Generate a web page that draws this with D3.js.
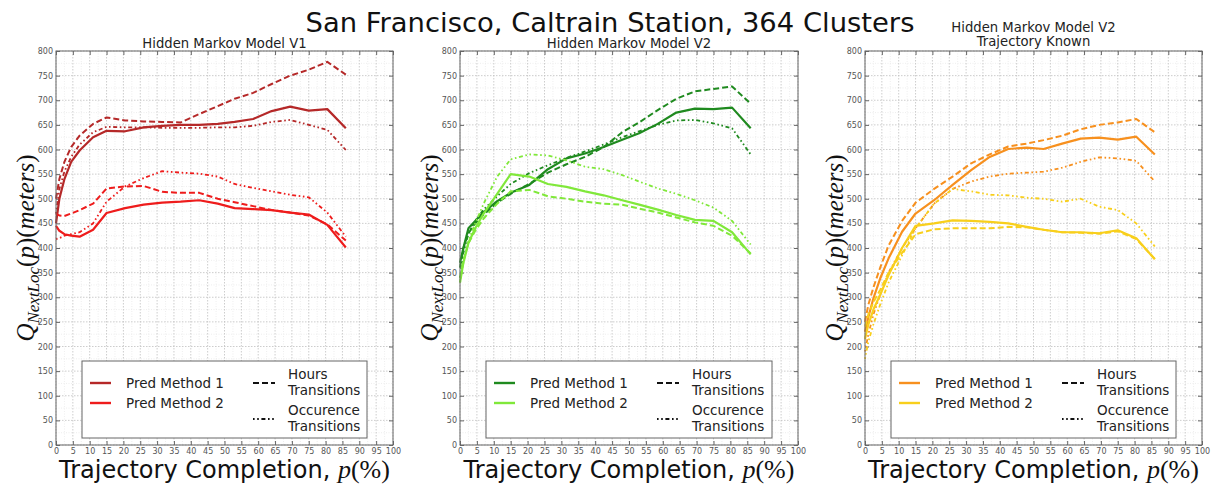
<!DOCTYPE html>
<html><head><meta charset="utf-8">
<script src="https://cdn.jsdelivr.net/npm/d3@7"></script>
<style>body{margin:0;background:#fff}svg{display:block}</style>
</head><body><svg id="c" width="1212" height="487"></svg>
<script>
// ---------- data ----------
const mainTitle = "San Francisco, Caltrain Station, 364 Clusters";
const panelTitles = [["Hidden Markov Model V1"], ["Hidden Markov Model V2"], ["Hidden Markov Model V2", "Trajectory Known"]];
const methodNames = ["Pred Method 1", "Pred Method 2"];
const transitionNames = [["Hours", "Transitions"], ["Occurence", "Transitions"]];
const xTickLabels = [0,5,10,15,20,25,30,35,40,45,50,55,60,65,70,75,80,85,90,95,100];
const yTickLabels = [0,50,100,150,200,250,300,350,400,450,500,550,600,650,700,750,800];
const completion = [0,1,2.5,4.5,7,11,15,20.5,26,31.5,37,42.5,48,53,58.5,64,69.5,75,80.5,86];

// Hidden Markov Model V1
const v1M1Solid     = [450,500,540,575,598,625,638,637,645,648,650,650,652,656,662,678,687,679,682,643];
const v1M1Hours     = [500,540,575,605,628,652,665,659,657,656,655,672,688,703,715,733,750,762,778,752];
const v1M1Occurence = [470,520,555,585,610,635,646,645,645,644,644,644,645,645,648,656,660,650,640,599];
const v1M2Solid     = [445,435,428,425,423,437,471,481,488,492,494,497,490,481,479,477,472,468,447,401];
const v1M2Hours     = [470,466,465,470,477,490,521,525,526,514,512,512,500,493,485,477,472,466,448,415];
const v1M2Occurence = [418,420,425,428,432,450,494,525,542,556,553,551,545,530,522,515,508,503,472,423];
// Hidden Markov Model V2
const v2M1Solid     = [370,400,440,455,473,495,512,528,560,582,592,605,620,633,652,675,683,682,685,643];
const v2M1Hours     = [360,400,430,450,468,492,510,530,553,570,585,605,635,655,680,703,718,723,728,693];
const v2M1Occurence = [340,390,430,455,478,505,530,552,568,583,596,610,625,637,650,659,660,653,643,590];
const v2M2Solid     = [330,370,410,440,470,510,550,545,530,524,515,507,497,488,478,467,457,455,432,387];
const v2M2Hours     = [340,375,410,435,460,490,515,518,505,500,494,490,488,480,472,462,452,445,425,389];
const v2M2Occurence = [330,370,415,450,490,545,580,590,588,578,565,560,548,535,521,510,497,482,455,407];
// Hidden Markov Model V2, Trajectory Known
const v3M1Solid     = [230,260,298,338,379,433,470,497,528,558,585,601,604,601,612,622,624,620,626,590];
const v3M1Hours     = [250,285,320,360,405,455,492,520,545,572,590,606,612,619,628,641,650,655,662,635];
const v3M1Occurence = [190,225,265,305,350,400,440,490,520,535,545,551,553,555,563,575,584,582,577,535];
const v3M2Solid     = [215,245,275,305,345,400,445,450,456,455,453,450,443,437,432,432,430,436,420,377];
const v3M2Hours     = [240,265,290,315,350,390,428,438,440,440,440,443,442,437,432,431,429,434,418,378];
const v3M2Occurence = [175,210,245,285,330,385,440,490,520,515,508,507,502,500,494,500,484,477,450,403];

const panelSeries = [
  [[v1M1Solid, v1M1Hours, v1M1Occurence], [v1M2Solid, v1M2Hours, v1M2Occurence]],
  [[v2M1Solid, v2M1Hours, v2M1Occurence], [v2M2Solid, v2M2Hours, v2M2Occurence]],
  [[v3M1Solid, v3M1Hours, v3M1Occurence], [v3M2Solid, v3M2Hours, v3M2Occurence]]
];
const panelColors = [["#b52828", "#ee1c1c"], ["#1f8a1f", "#80e83a"], ["#f7901e", "#f8cf1c"]];

// ---------- layout ----------
const plotBoxes = [{l:56, r:393}, {l:460, r:798}, {l:865, r:1202}];
const plotTop = 51, plotBottom = 445;
const dashes = [null, "6,3", "1.6,2.6,1.6,2.6,4,2.6"];
const widths = [2.2, 2.0, 1.8];

const svg = d3.select("#c");
svg.append("rect").attr("width", 1212).attr("height", 487).attr("fill", "#fff");

svg.append("text").attr("x", 610).attr("y", 32).attr("text-anchor", "middle")
  .attr("font-family", "DejaVu Sans").attr("font-size", 27.4).attr("fill", "#111").text(mainTitle);

plotBoxes.forEach((b, pi) => {
  const x = d3.scaleLinear().domain([0, 100]).range([b.l, b.r]);
  const y = d3.scaleLinear().domain([0, 800]).range([plotBottom, plotTop]);
  const g = svg.append("g");

  // minor grid
  const minorX = xTickLabels.slice(0, -1).map(v => v + 2.5);
  const minorY = yTickLabels.slice(0, -1).map(v => v + 25);
  g.selectAll(".mgx").data(minorX).join("line")
    .attr("x1", d => x(d)).attr("x2", d => x(d)).attr("y1", plotTop).attr("y2", plotBottom)
    .attr("stroke", "#e6e6e6").attr("stroke-width", 0.7).attr("stroke-dasharray", "1,1.5");
  g.selectAll(".mgy").data(minorY).join("line")
    .attr("y1", d => y(d)).attr("y2", d => y(d)).attr("x1", b.l).attr("x2", b.r)
    .attr("stroke", "#e6e6e6").attr("stroke-width", 0.7).attr("stroke-dasharray", "1,1.5");
  // major grid
  g.selectAll(".gx").data(xTickLabels).join("line")
    .attr("x1", d => x(d)).attr("x2", d => x(d)).attr("y1", plotTop).attr("y2", plotBottom)
    .attr("stroke", "#c0c0c0").attr("stroke-width", 0.8).attr("stroke-dasharray", "1.5,1.5");
  g.selectAll(".gy").data(yTickLabels).join("line")
    .attr("y1", d => y(d)).attr("y2", d => y(d)).attr("x1", b.l).attr("x2", b.r)
    .attr("stroke", "#c0c0c0").attr("stroke-width", 0.8).attr("stroke-dasharray", "1.5,1.5");

  // axes
  const styleAxis = sel => {
    sel.select(".domain").remove();
    sel.selectAll("line").attr("stroke", "#666");
    sel.selectAll("text").attr("font-family", "DejaVu Sans").attr("font-size", 8).attr("fill", "#555");
  };
  g.append("g").attr("transform", `translate(0,${plotBottom})`)
    .call(d3.axisBottom(x).tickValues(xTickLabels).tickSizeInner(-4).tickSizeOuter(0).tickPadding(3)).call(styleAxis);
  g.append("g").attr("transform", `translate(${b.l},0)`)
    .call(d3.axisLeft(y).tickValues(yTickLabels).tickSizeInner(-4).tickSizeOuter(0).tickPadding(3)).call(styleAxis);
  g.append("g").attr("transform", `translate(0,${plotTop})`)
    .call(d3.axisTop(x).tickValues(xTickLabels).tickSizeInner(-4).tickSizeOuter(0).tickFormat("")).call(styleAxis);
  g.append("g").attr("transform", `translate(${b.r},0)`)
    .call(d3.axisRight(y).tickValues(yTickLabels).tickSizeInner(-4).tickSizeOuter(0).tickFormat("")).call(styleAxis);

  // lines
  const line = d3.line().x(d => x(d[0])).y(d => y(d[1]));
  panelSeries[pi].forEach((method, mi) => {
    method.forEach((vals, si) => {
      g.append("path").datum(completion.map((c, i) => [c, vals[i]]))
        .attr("d", line).attr("fill", "none")
        .attr("stroke", panelColors[pi][mi]).attr("stroke-width", widths[si])
        .attr("stroke-linejoin", "round")
        .attr("stroke-dasharray", dashes[si]);
    });
  });

  // frame
  g.append("rect").attr("x", b.l).attr("y", plotTop).attr("width", b.r - b.l).attr("height", plotBottom - plotTop)
    .attr("fill", "none").attr("stroke", "#666").attr("stroke-width", 1);

  // subtitle
  const cx = (b.l + b.r) / 2;
  const titles = panelTitles[pi];
  titles.forEach((t, ti) => {
    g.append("text").attr("x", cx).attr("y", titles.length === 1 ? 48 : 32 + ti * 14)
      .attr("text-anchor", "middle").attr("font-family", "DejaVu Sans").attr("font-size", 13.2)
      .attr("fill", "#222").text(t);
  });

  // x label
  const xl = g.append("text").attr("x", cx).attr("y", 478).attr("text-anchor", "middle")
    .attr("font-family", "DejaVu Sans").attr("font-size", 24).attr("fill", "#111");
  xl.append("tspan").text("Trajectory Completion, ");
  xl.append("tspan").attr("font-family", "Liberation Serif").attr("font-style", "italic").attr("font-size", 26).text("p");
  xl.append("tspan").attr("font-family", "Liberation Serif").attr("font-size", 26).text("(%)");

  // y label
  const yl = g.append("text").attr("transform", `translate(${b.l - 22},${(plotTop + plotBottom) / 2}) rotate(-90)`)
    .attr("text-anchor", "middle").attr("font-family", "Liberation Serif").attr("font-size", 25).attr("fill", "#111");
  yl.append("tspan").attr("font-style", "italic").text("Q");
  yl.append("tspan").attr("font-style", "italic").attr("font-size", 17).attr("dy", 5).text("NextLoc");
  yl.append("tspan").attr("dy", -5).text("(");
  yl.append("tspan").attr("font-style", "italic").text("p");
  yl.append("tspan").text(")(");
  yl.append("tspan").attr("font-style", "italic").text("meters");
  yl.append("tspan").text(")");

  // legend
  const lx = b.l + 26, lw = b.r - b.l - 52, ly = 361, lh = 77;
  const lg = g.append("g");
  lg.append("rect").attr("x", lx).attr("y", ly).attr("width", lw).attr("height", lh)
    .attr("fill", "#fff").attr("stroke", "#666").attr("stroke-width", 1);
  methodNames.forEach((name, mi) => {
    const yy = ly + 22 + mi * 20;
    lg.append("line").attr("x1", lx + 8).attr("x2", lx + 29).attr("y1", yy).attr("y2", yy)
      .attr("stroke", panelColors[pi][mi]).attr("stroke-width", 2.4);
    lg.append("text").attr("x", lx + 44).attr("y", yy + 5).attr("font-family", "DejaVu Sans")
      .attr("font-size", 13.5).attr("fill", "#222").text(name);
  });
  transitionNames.forEach((lines, ti) => {
    const yy = ly + 22 + ti * 36;
    lg.append("line").attr("x1", lx + 171).attr("x2", lx + 193).attr("y1", yy).attr("y2", yy)
      .attr("stroke", "#111").attr("stroke-width", 2).attr("stroke-dasharray", dashes[ti + 1]);
    lines.forEach((t, k) => {
      lg.append("text").attr("x", lx + 206).attr("y", yy - 4 + k * 16).attr("font-family", "DejaVu Sans")
        .attr("font-size", 13.5).attr("fill", "#222").text(t);
    });
  });
});
</script></body></html>
